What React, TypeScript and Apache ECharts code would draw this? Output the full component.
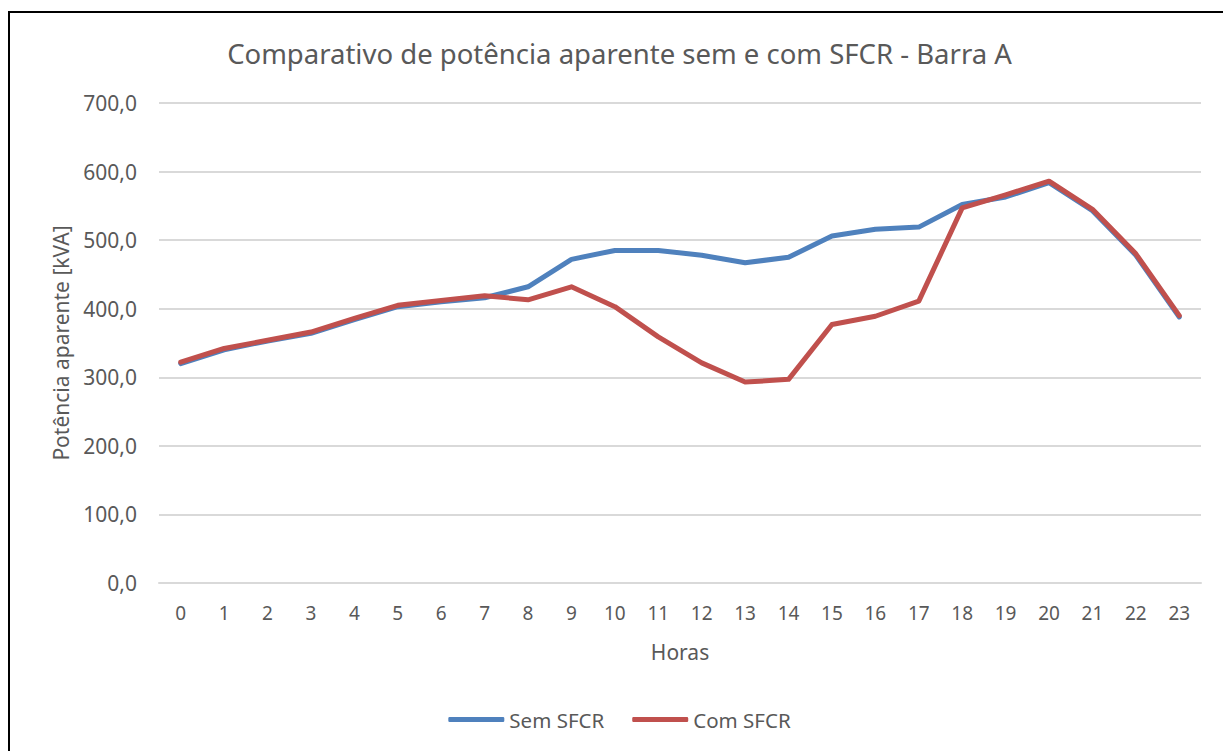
import React, { useEffect, useRef } from "react";
import * as echarts from "echarts";

const hours = ["0","1","2","3","4","5","6","7","8","9","10","11","12","13","14","15","16","17","18","19","20","21","22","23"];
const semSFCR = [320, 340, 353, 364, 384, 403, 410, 416, 432, 472, 485, 485, 478, 467, 475, 506, 516, 519, 552, 563, 584, 543, 478, 388];
const comSFCR = [322, 342, 354, 366, 386, 405, 412, 419, 413, 432, 403, 359, 321, 293, 297, 377, 389, 411, 547, 566, 586, 545, 480, 390];
const yTicks = { min: 0, max: 700, interval: 100 };

export default function App() {
  const ref = useRef<HTMLDivElement>(null);
  useEffect(() => {
    const chart = echarts.init(ref.current!, null, { renderer: "svg" });
    const font = "'Noto Sans', sans-serif";
    const grey = "#595959";
    chart.setOption({
      animation: false,
      backgroundColor: "#fff",
      title: {
        text: "Comparativo de potência aparente sem e com SFCR - Barra A",
        left: "center",
        top: 26,
        textStyle: { fontFamily: font, fontSize: 27.5, fontWeight: "normal", color: grey },
      },
      graphic: [
        {
          type: "rect",
          shape: { x: 1, y: 4, width: 1220, height: 780 },
          style: { fill: "none", stroke: "#000", lineWidth: 2 },
          silent: true,
        },
      ],
      legend: {
        bottom: 16,
        left: "center",
        itemWidth: 56,
        itemHeight: 5,
        itemGap: 28,
        icon: "roundRect",
        textStyle: { fontFamily: font, fontSize: 20.5, color: grey },
        data: ["Sem SFCR", "Com SFCR"],
      },
      grid: { left: 151, right: 30, top: 95, bottom: 168 },
      xAxis: {
        type: "category",
        data: hours,
        boundaryGap: true,
        name: "Horas",
        nameLocation: "middle",
        nameGap: 58,
        nameTextStyle: { fontFamily: font, fontSize: 21, color: grey },
        axisLine: { show: true, lineStyle: { color: "#d9d9d9", width: 2 } },
        axisTick: { show: false },
        axisLabel: { fontFamily: font, fontSize: 19, color: grey, margin: 20 },
      },
      yAxis: {
        type: "value",
        min: yTicks.min,
        max: yTicks.max,
        interval: yTicks.interval,
        name: "Potência aparente [kVA]",
        nameLocation: "middle",
        nameGap: 88,
        nameTextStyle: { fontFamily: font, fontSize: 21, color: grey },
        axisLine: { show: false },
        axisTick: { show: false },
        splitLine: { lineStyle: { color: "#d9d9d9", width: 2 } },
        axisLabel: {
          fontFamily: font,
          fontSize: 21,
          color: grey,
          margin: 22,
          formatter: (v: number) => v.toFixed(1).replace(".", ","),
        },
      },
      series: [
        {
          name: "Sem SFCR",
          type: "line",
          data: semSFCR,
          symbol: "none",
          lineStyle: { color: "#4F81BD", width: 5, cap: "round", join: "round" },
          itemStyle: { color: "#4F81BD" },
        },
        {
          name: "Com SFCR",
          type: "line",
          data: comSFCR,
          symbol: "none",
          lineStyle: { color: "#C0504D", width: 5, cap: "round", join: "round" },
          itemStyle: { color: "#C0504D" },
        },
      ],
    });
    return () => chart.dispose();
  }, []);
  return <div ref={ref} style={{ width: 1223, height: 743 }} />;
}
